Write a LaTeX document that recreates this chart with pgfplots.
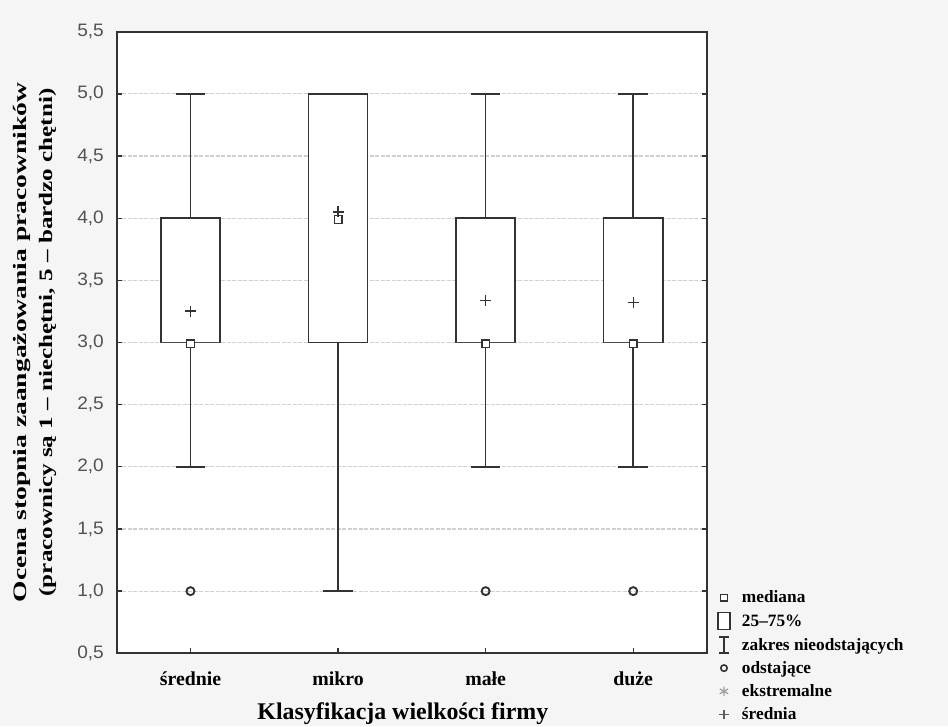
\documentclass[border=0pt]{standalone}
\usepackage{fontspec}
\setmainfont{Liberation Serif}
\newfontfamily\ylabfontA[FakeStretch=1.45]{Liberation Serif}
\newfontfamily\ylabfontB[FakeStretch=1.32]{Liberation Serif}
\newfontfamily\ticksans[FakeStretch=1.06]{Liberation Sans}
\usepackage{pgfplots}
\pgfplotsset{compat=1.18}
\usepgfplotslibrary{statistics}
\usetikzlibrary{backgrounds}
\definecolor{dark}{HTML}{333333}
\definecolor{gridc}{HTML}{D0D0D0}
\definecolor{bg}{HTML}{F5F5F5}
\begin{document}
\begin{tikzpicture}
\begin{axis}[
  scale only axis, width=590.3pt, height=621.6pt,
  xmin=-0.5, xmax=3.5, ymin=0.5, ymax=5.5,
  xtick={0,1,2,3}, xticklabels={średnie,mikro,małe,duże},
  ytick={0.5,1.0,1.5,2.0,2.5,3.0,3.5,4.0,4.5,5.0,5.5},
  /pgf/number format/fixed, /pgf/number format/fixed zerofill,
  /pgf/number format/precision=1, /pgf/number format/use comma,
  /pgf/number format/assume math mode=true,
  xtick pos=left, ytick pos=both,
  tick align=inside, major tick length=5pt,
  tick style={dark, line width=1.3pt},
  axis line style={dark, line width=1.7pt},
  axis background/.style={fill=white},
  ymajorgrids,
  major grid style={gridc, line width=1.2pt, dash pattern=on 4pt off 1.5pt},
  yticklabel style={font=\ticksans\fontsize{18}{18}\selectfont, inner sep=0pt, anchor=east, xshift=-12.7pt, text=dark!85},
  xticklabel style={font=\bfseries\fontsize{19.8}{19.8}\selectfont, inner sep=0pt, anchor=base, yshift=-32pt},
  xlabel={Klasyfikacja wielkości firmy},
  xlabel style={at={([yshift=-66pt,xshift=-9pt]axis description cs:0.5,0)}, anchor=base, inner sep=0pt, font=\bfseries\fontsize{23.9}{23.9}\selectfont},
  ylabel={{\ylabfontA Ocena stopnia zaangażowania pracowników}\\{\ylabfontB (pracownicy są 1 – niechętni, 5 – bardzo chętni)}},
  ylabel style={at={([xshift=-82pt]axis description cs:0,0.5)}, anchor=center, align=center, font=\bfseries\fontsize{19}{26}\selectfont},
  boxplot/draw direction=y,
  boxplot/every median/.style={draw=none},
  legend style={at={(axis description cs:1.0169,0.1035)}, anchor=north west, draw=none, fill=none,
    inner sep=0pt, outer sep=0pt, row sep=5.7pt,
    font=\bfseries\fontsize{17.3}{17.3}\selectfont,
    /tikz/every odd column/.append style={column sep=9pt}},
  legend cell align=left,
]
% boxes: whiskers, quartiles; outliers as coordinates
\addplot[forget plot, draw=dark, fill=white, line width=1.6pt, mark=o, mark size=4pt, mark options={line width=1.9pt, fill=white},
  boxplot prepared={draw position=0, lower whisker=2, lower quartile=3, median=3, upper quartile=4, upper whisker=5, box extend=0.4, whisker extend=0.2}]
  coordinates {(0,1)};
\addplot[forget plot, draw=dark, fill=white, line width=1.6pt, mark=o, mark size=4pt, mark options={line width=1.9pt, fill=white},
  boxplot prepared={draw position=1, lower whisker=1, lower quartile=3, median=4, upper quartile=5, upper whisker=5, box extend=0.4, whisker extend=0.2}]
  coordinates {};
\addplot[forget plot, draw=dark, fill=white, line width=1.6pt, mark=o, mark size=4pt, mark options={line width=1.9pt, fill=white},
  boxplot prepared={draw position=2, lower whisker=2, lower quartile=3, median=3, upper quartile=4, upper whisker=5, box extend=0.4, whisker extend=0.2}]
  coordinates {(2,1)};
\addplot[forget plot, draw=dark, fill=white, line width=1.6pt, mark=o, mark size=4pt, mark options={line width=1.9pt, fill=white},
  boxplot prepared={draw position=3, lower whisker=2, lower quartile=3, median=3, upper quartile=4, upper whisker=5, box extend=0.4, whisker extend=0.2}]
  coordinates {(3,1)};
% medians
\addplot[forget plot, only marks, mark=square*, mark size=3.8pt, mark options={draw=dark, fill=white, line width=1.4pt}]
  coordinates {(0,2.99) (1,3.99) (2,2.99) (3,2.99)};
% means
\addplot[forget plot, only marks, mark=+, mark size=5.5pt, mark options={draw=dark, line width=1.3pt}]
  coordinates {(0,3.253) (1,4.05) (2,3.34) (3,3.32)};
% legend
\addlegendimage{legend image code/.code={\draw[draw=none] (-7pt,0) -- (7pt,0); \draw[dark, line width=1.3pt, fill=white] (-3.4pt,-3.4pt) rectangle (3.4pt,3.4pt);}}
\addlegendentry{mediana}
\addlegendimage{legend image code/.code={\draw[draw=none] (-7pt,0) -- (7pt,0); \draw[dark, line width=1.3pt, fill=white] (-6pt,-8.5pt) rectangle (6pt,8.5pt);}}
\addlegendentry{25–75\%}
\addlegendimage{legend image code/.code={\draw[draw=none] (-7pt,0) -- (7pt,0); \draw[dark, line width=1.3pt] (0,-8pt) -- (0,8pt) (-5pt,8pt) -- (5pt,8pt) (-5pt,-8pt) -- (5pt,-8pt);}}
\addlegendentry{zakres nieodstających}
\addlegendimage{legend image code/.code={\draw[draw=none] (-7pt,0) -- (7pt,0); \draw[dark, line width=1.6pt] (0,0) circle (3.2pt);}}
\addlegendentry{odstające}
\addlegendimage{legend image code/.code={\draw[draw=none] (-7pt,0) -- (7pt,0); \draw[gray!75, line width=1.3pt] plot[mark=asterisk, mark size=4.8pt] coordinates {(0,0)};}}
\addlegendentry{ekstremalne}
\addlegendimage{legend image code/.code={\draw[draw=none] (-7pt,0) -- (7pt,0); \draw[dark!80, line width=1.3pt] plot[mark=+, mark size=4.8pt] coordinates {(0,0)};}}
\addlegendentry{średnia}
\end{axis}
\pgfresetboundingbox
\path[use as bounding box] ([shift={(-116.7pt,-72.7pt)}]current axis.south west) rectangle ++(948pt,726pt);
\begin{scope}[on background layer]
\fill[bg] ([shift={(-116.7pt,-72.7pt)}]current axis.south west) rectangle ++(948pt,726pt);
\end{scope}
\end{tikzpicture}
\end{document}
